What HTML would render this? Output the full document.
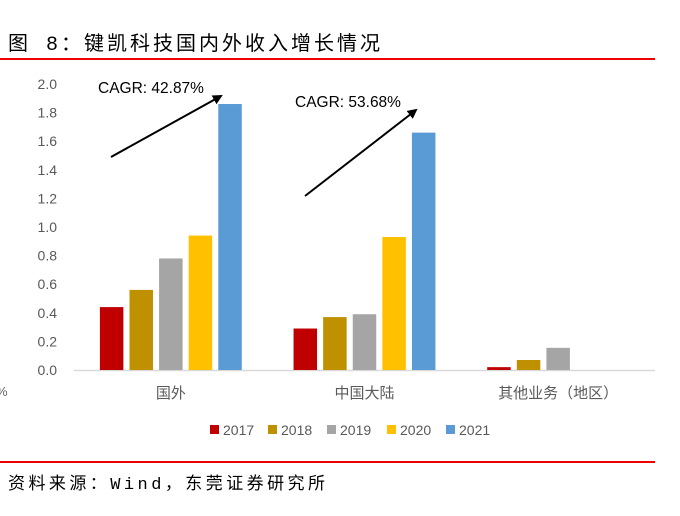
<!DOCTYPE html>
<html><head><meta charset="utf-8"><style>
body{margin:0;width:680px;height:511px;background:#fff;overflow:hidden;font-family:"Liberation Sans","Noto Sans CJK SC",sans-serif}
</style></head><body>
<svg width="680" height="511" xmlns="http://www.w3.org/2000/svg">
<text x="8" y="50" font-size="20" fill="#000" textLength="372" lengthAdjust="spacing" font-family="Liberation Mono,Noto Sans CJK SC,monospace">图 8：键凯科技国内外收入增长情况</text>
<line x1="0" y1="59" x2="655" y2="59" stroke="#e00" stroke-width="2"/>
<line x1="0" y1="462" x2="655" y2="462" stroke="#e00" stroke-width="2"/>
<text x="8" y="489" font-size="17" fill="#000" textLength="317" lengthAdjust="spacing" font-family="Liberation Mono,Noto Sans CJK SC,monospace">资料来源：Wind，东莞证券研究所</text>
<text x="-4" y="396" font-size="13" fill="#666">%</text>
<g id="plot"></g>
<defs><marker id="ah" markerWidth="10" markerHeight="10" refX="8" refY="5" orient="auto" markerUnits="userSpaceOnUse"><path d="M0,0 L10,5 L0,10 z" fill="#000"/></marker></defs>
<line x1="111" y1="157" x2="221" y2="96" stroke="#000" stroke-width="2" marker-end="url(#ah)"/>
<text x="98" y="93" font-size="15.5" fill="#000">CAGR: 42.87%</text>
<line x1="305" y1="196" x2="416" y2="110" stroke="#000" stroke-width="2" marker-end="url(#ah)"/>
<text x="295" y="107" font-size="15.5" fill="#000">CAGR: 53.68%</text>
</svg>
<script>
const categories=["国外","中国大陆","其他业务（地区）"];
const years=["2017","2018","2019","2020","2021"];
const colors=["#c00000","#bf9000","#a5a5a5","#ffc000","#5b9bd5"];
const s2017=[0.44,0.29,0.02];
const s2018=[0.56,0.37,0.07];
const s2019=[0.78,0.39,0.155];
const s2020=[0.94,0.93,0];
const s2021=[1.86,1.66,0];
const yTicks=[0,0.2,0.4,0.6,0.8,1.0,1.2,1.4,1.6,1.8,2.0];
const series=[s2017,s2018,s2019,s2020,s2021];
const NS="http://www.w3.org/2000/svg";
const g=document.getElementById('plot');
const x0=74,x1=655,y0=370,yTop=84,yMax=2.0;
const y=v=>y0-(v/yMax)*(y0-yTop);
const catW=(x1-x0)/categories.length;
const cx=i=>x0+catW*(i+0.5);
function mk(t,a){const e=document.createElementNS(NS,t);for(const k in a)e.setAttribute(k,a[k]);g.appendChild(e);return e;}
yTicks.forEach(v=>{const t=mk('text',{x:57,y:y(v)+5,'font-size':14,fill:'#595959','text-anchor':'end'});t.textContent=v.toFixed(1);

});
const ax=mk('line',{x1:x0,y1:y0+0.5,x2:x1,y2:y0+0.5,stroke:'#d9d9d9','stroke-width':1.5});


const pitch=29.6,bw=23.5;
categories.forEach((c,i)=>{
 series.forEach((s,j)=>{
  const v=s[i]; if(v<=0)return;
  const bx=cx(i)+(j-2)*pitch-bw/2;
  const r=mk('rect',{x:bx,y:y(v),width:bw,height:y0-y(v),fill:colors[j]});
  
  
 });
 const t=mk('text',{x:cx(i),y:398,'font-size':15,fill:'#595959','text-anchor':'middle'});
 t.textContent=c;
 
 
});
const lx=[210,268,327,387,446];
years.forEach((yr,j)=>{
 const r=mk('rect',{x:lx[j],y:425,width:9,height:9,fill:colors[j]});
 
 
 const t=mk('text',{x:lx[j]+13,y:435,'font-size':14,fill:'#595959'});
 t.textContent=yr;
 
 
});
</script>
</body></html>
